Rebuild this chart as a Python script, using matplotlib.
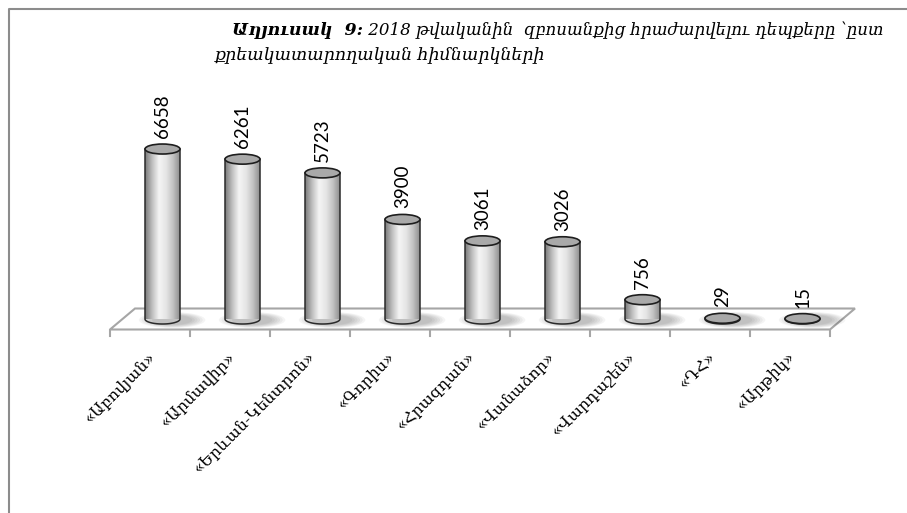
import matplotlib.pyplot as plt
import numpy as np
from matplotlib.patches import Ellipse, Polygon
from matplotlib.colors import LinearSegmentedColormap
from matplotlib.lines import Line2D

# data
categories = ['«Աբովյան»', '«Արմավիր»', '«Երևան-Կենտրոն»', '«Գորիս»', '«Հրազդան»',
              '«Վանաձոր»', '«Վարդաշեն»', '«ԴՀ»', '«Արթիկ»']
cases = [6658, 6261, 5723, 3900, 3061, 3026, 756, 29, 15]
title_bold = 'Աղյուսակ  9:'
title_rest = ' 2018 թվականին  զբոսանքից հրաժարվելու դեպքերը ՝ըստ'
title_line2 = 'քրեակատարողական հիմնարկների'

W, H = 907, 513
SCALE = 0.02553          # pixels per case
PX = 1 / 80              # data x per pixel
PY = 1 / SCALE           # data y per pixel
arm_font = ['DejaVu Serif', 'DejaVu Sans']

fig = plt.figure(figsize=(W / 100, H / 100), dpi=100)
ymax = 7500
ax = fig.add_axes([122.5 / W, (H - 319) / H, 720 / W, ymax * SCALE / H])
ax.set_xlim(-0.5, 8.5)
ax.set_ylim(0, ymax)
ax.axis('off')

# floor
d = 12.5 * PX
dy = 10.5 * PY
floor = Polygon([(-0.5 - d, -dy), (8.5 - d, -dy), (8.5 + d, dy), (-0.5 + d, dy)],
                closed=True, facecolor='white', edgecolor='#a6a6a6', lw=1.5,
                clip_on=False, zorder=1)
ax.add_patch(floor)
for k in range(len(categories) + 1):
    x = k - 0.5 - d
    ax.plot([x, x], [-dy, -dy - 6 * PY], color='#a6a6a6', lw=1.5, clip_on=False, zorder=1)

# cylinders
cyl_cmap = LinearSegmentedColormap.from_list(
    'cyl', ['#7a7a7a', '#bdbdbd', '#f4f4f4', '#e6e6e6', '#c4c4c4', '#8e8e8e'])
grad = np.linspace(0, 1, 200).reshape(1, -1)
cw = 35 * PX
eh = 10 * PY
theta = np.linspace(np.pi, 2 * np.pi, 60)

for i, v in enumerate(cases):
    # soft shadow on the floor
    for s in range(6):
        sh = Ellipse((i + 0.12, -1 * PY), cw * (1.9 - 0.15 * s), eh * (1.6 - 0.12 * s),
                     facecolor='black', edgecolor='none', alpha=0.045, zorder=2, clip_on=False)
        ax.add_patch(sh)
    x0, x1 = i - cw / 2, i + cw / 2
    bx = i + cw / 2 * np.cos(theta)
    by = eh / 2 * np.sin(theta)
    pts = list(zip(bx, by)) + [(x1, v), (x0, v)]
    body = Polygon(pts, closed=True, facecolor='none', edgecolor='none')
    ax.add_patch(body)
    img = ax.imshow(grad, extent=[x0, x1, -eh / 2, v], aspect='auto', cmap=cyl_cmap,
                    zorder=3, interpolation='bilinear')
    img.set_clip_path(body)
    ax.add_patch(Polygon(pts, closed=True, facecolor='none', edgecolor='#2a2a2a',
                         lw=1.1, zorder=4, clip_on=False))
    ax.add_patch(Ellipse((i, v), cw, eh, facecolor='#a9a9a9', edgecolor='#1e1e1e',
                         lw=1.2, zorder=5, clip_on=False))
    ax.text(i, v + 11 * PY, str(v), rotation=90, ha='center', va='bottom',
            fontsize=13.5, family='Lato', color='black', zorder=6)

ax.set_xlim(-0.5, 8.5)
ax.set_ylim(0, ymax)

# category labels
for i, name in enumerate(categories):
    ax.text(i - d + 3 * PX, -dy - 25 * PY, name, rotation=45, rotation_mode='anchor',
            ha='right', va='center', fontsize=11.5, family=arm_font)

# title
t1 = fig.text(232 / W, 1 - 35 / H, title_bold, fontsize=12.5, fontweight='bold',
              style='italic', family=arm_font, va='baseline')
fig.canvas.draw()
bb = t1.get_window_extent()
fig.text(bb.x1 / W, 1 - 35 / H, title_rest, fontsize=12, style='italic',
         family=arm_font, va='baseline')
fig.text(215 / W, 1 - 59 / H, title_line2, fontsize=12.5, style='italic',
         family=arm_font, va='baseline')

# outer frame
fig.add_artist(Line2D([8.5 / W, 8.5 / W, 1], [0, 1 - 9 / H, 1 - 9 / H],
                      transform=fig.transFigure, color='#8c8c8c', lw=1.5))

fig.savefig('out.png', dpi=100)
